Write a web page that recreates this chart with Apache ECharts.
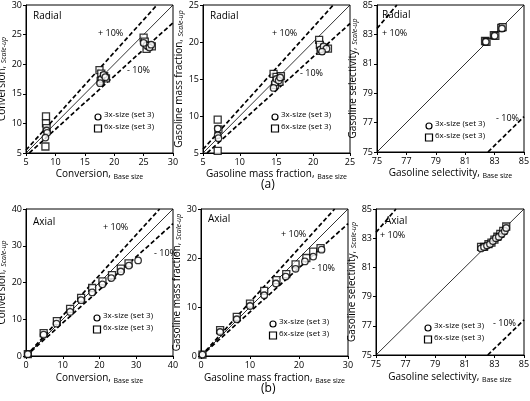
<!DOCTYPE html>
<html><head><meta charset="utf-8">
<script src="https://cdn.jsdelivr.net/npm/echarts@6/dist/echarts.min.js"></script>
<style>html,body{margin:0;padding:0;background:#fff}#c{width:530px;height:401px}</style>
</head><body><div id="c"></div>
<script>
// ---- data ----
var radialConv3x = [[8.5,8.8],[8.6,8.4],[8.3,7.6],[17.8,17.5],[18.2,18.2],[18.5,17.8],[17.6,16.8],[25.5,23.2],[26,22.8],[26.3,23.3],[25,23.6]];
var radialConv6x = [[8.4,11.2],[8.4,10],[8.5,9.2],[8.3,6.1],[17.5,19],[17.8,18.4],[18.3,18.0],[18.6,17.6],[17.7,17.2],[25,24.5],[25.2,23.8],[25.5,22.6],[26,23.1],[26.4,23]];
var radialGas3x = [[7,8.3],[7,7.4],[7.1,7.0],[14.8,14.5],[15,15],[15.3,14.8],[14.6,13.8],[15.5,15.2],[21,19],[21.4,19.4],[21.8,19.1],[21.2,18.7]];
var radialGas6x = [[7,9.5],[7.1,8.2],[7,5.3],[14.6,15.7],[15,15.3],[15.4,14.6],[15.6,15.4],[14.8,14.2],[20.8,20.3],[20.9,19.6],[21,18.8],[21.5,19.2],[22,19.1]];
var radialSel3x = [[82.4,82.5],[83,82.9],[83.5,83.4]];
var radialSel6x = [[82.35,82.55],[82.45,82.5],[82.95,82.95],[83.05,82.9],[83.45,83.45],[83.55,83.5]];
var axialConv3x = [[0.5,0.5],[4.8,5.8],[8.3,8.8],[12,12],[15,15.2],[18,17.3],[20.8,19.5],[23.2,21.2],[25.8,23],[28,24.6],[30.5,26]];
var axialConv6x = [[0.5,0.5],[4.8,6.2],[8.4,9.5],[12,12.8],[15,15.8],[18,18.5],[20.8,20.3],[23.4,22],[25.8,23.8],[27.9,25.2]];
var axialGas3x = [[0.3,0.3],[3.9,4.9],[7.3,7.5],[10,10.2],[12.9,12.4],[15.3,14.8],[17.3,16.2],[19.3,17.8],[21.2,19.3],[22.9,20.3],[24.6,21.7]];
var axialGas6x = [[0.3,0.3],[3.9,5.3],[7.3,8],[10,10.7],[12.9,13.3],[15.4,15.5],[17.4,16.7],[19.3,18.7],[21.5,20],[22.9,21.3],[24.4,22]];
var axialSel3x = [[82.1,82.3],[82.3,82.4],[82.5,82.5],[82.7,82.6],[82.9,82.8],[83.1,83.0],[83.3,83.1],[83.5,83.3],[83.7,83.5],[83.8,83.7]];
var axialSel6x = [[82.1,82.4],[82.3,82.4],[82.6,82.6],[82.8,82.7],[83.0,82.9],[83.2,83.1],[83.4,83.3],[83.6,83.5],[83.8,83.8]];

// reference lines (endpoints)
var conv1Parity = [[5,5],[30,30]], conv1Plus = [[5,5.5],[27.27,30]], conv1Minus = [[5.56,5],[30,27]];
var gas1Parity = [[5,5],[25,25]], gas1Plus = [[5,5.5],[22.73,25]], gas1Minus = [[5.56,5],[25,22.5]];
var selParity = [[75,75],[85,85]], selPlus = [[75,83.4],[76.35,85]], selMinus = [[82.55,75],[85,77.4]];
var conv2Parity = [[0,0],[40,40]], conv2Plus = [[0,0],[36.36,40]], conv2Minus = [[0,0],[40,36]];
var gas2Parity = [[0,0],[30,30]], gas2Plus = [[0,0],[27.27,30]], gas2Minus = [[0,0],[30,27]];

var legend3x = '3x-size (set 3)', legend6x = '6x-size (set 3)';
var xNames = ['Conversion, ','Gasoline mass fraction, ','Gasoline selectivity, ','Conversion, ','Gasoline mass fraction, ','Gasoline selectivity, '];
var yNames = xNames;
var panelTags = ['Radial','Radial','Radial','Axial','Axial','Axial'];

// ---- layout ----
var FONT = '"Open Sans", "DejaVu Sans", sans-serif';
var grids = [
  {left:26, top:5, width:147, height:148},
  {left:203, top:5, width:147, height:148},
  {left:377, top:5, width:147, height:147},
  {left:26, top:209, width:147, height:147},
  {left:201, top:209, width:147, height:147},
  {left:376, top:209, width:148, height:146}
];
var axisRanges = [[5,30,5],[5,25,5],[75,85,2],[0,40,10],[0,30,10],[75,85,2]];
var yNameGaps = [15,14,12,15,13,14];
var xNameGaps = [16,16,16,17,17,17];

var panels = [
  {c3:radialConv3x, c6:radialConv6x, par:conv1Parity, plus:conv1Plus, minus:conv1Minus},
  {c3:radialGas3x, c6:radialGas6x, par:gas1Parity, plus:gas1Plus, minus:gas1Minus},
  {c3:radialSel3x, c6:radialSel6x, par:selParity, plus:selPlus, minus:selMinus},
  {c3:axialConv3x, c6:axialConv6x, par:conv2Parity, plus:conv2Plus, minus:conv2Minus},
  {c3:axialGas3x, c6:axialGas6x, par:gas2Parity, plus:gas2Plus, minus:gas2Minus},
  {c3:axialSel3x, c6:axialSel6x, par:selParity, plus:selPlus, minus:selMinus}
];

var gridOpts = [], xAxes = [], yAxes = [], series = [];
grids.forEach(function(g,i){
  gridOpts.push(Object.assign({show:true, borderColor:'#000', borderWidth:1, backgroundColor:'#fff',
    containLabel:false, outerBoundsMode:'none'}, g));
  var r = axisRanges[i];
  var common = {
    gridIndex:i, type:'value', min:r[0], max:r[1], interval:r[2],
    axisLine:{show:true, onZero:false, lineStyle:{color:'#000', width:1}},
    axisTick:{show:true, inside:false, length:3, lineStyle:{color:'#000'}},
    splitLine:{show:false},
    axisLabel:{color:'#000', fontSize:9, fontFamily:FONT, margin:4},
    nameLocation:'middle'
  };
  xAxes.push(Object.assign({}, common, {
    name:'{a|'+xNames[i]+'}{b|Base size}', nameGap:xNameGaps[i],
    axisLabel:Object.assign({}, common.axisLabel, {margin:5}),
    nameTextStyle:{rich:{a:{fontSize:10, fontFamily:FONT, color:'#000'}, b:{fontSize:7, fontFamily:FONT, color:'#000', padding:[4,0,0,0]}}}
  }));
  yAxes.push(Object.assign({}, common, {
    name:'{a|'+yNames[i]+'}{b|Scale-up}', nameGap:yNameGaps[i],
    nameTextStyle:{rich:{a:{fontSize:10, fontFamily:FONT, color:'#000'}, b:{fontSize:7, fontFamily:FONT, color:'#000', fontStyle:'italic', padding:[4,0,0,0]}}}
  }));
  var p = panels[i];
  series.push({type:'line', xAxisIndex:i, yAxisIndex:i, data:p.par, symbol:'none', clip:true, silent:true,
    lineStyle:{color:'#000', width:0.8}, z:1});
  series.push({type:'line', xAxisIndex:i, yAxisIndex:i, data:p.plus, symbol:'none', clip:true, silent:true,
    lineStyle:{color:'#000', width:1.7, type:[4.5,2.5]}, z:1});
  series.push({type:'line', xAxisIndex:i, yAxisIndex:i, data:p.minus, symbol:'none', clip:true, silent:true,
    lineStyle:{color:'#000', width:1.7, type:[4.5,2.5]}, z:1});
  series.push({type:'scatter', name:legend6x, xAxisIndex:i, yAxisIndex:i, data:p.c6, symbol:'rect', symbolSize:7,
    itemStyle:{color:'#fff', borderColor:'#000', borderWidth:1.3}, z:3});
  series.push({type:'scatter', name:legend3x, xAxisIndex:i, yAxisIndex:i, data:p.c3, symbol:'circle', symbolSize:6.5,
    itemStyle:{color:'#fff', borderColor:'#000', borderWidth:1.3}, z:4});
});

// annotations
var txtFont = '9px ' + FONT;
var legFont = '8px ' + FONT;
var annos = [
  {tag:[33,11], plus:[98,29], minus:[127,66], leg:[98,117]},
  {tag:[210,11], plus:[272,29], minus:[300,69], leg:[275,117]},
  {tag:[382,10], plus:[382,29], minus:[496,114], leg:[429,126]},
  {tag:[33,217], plus:[103,223], minus:[154,249], leg:[97,318]},
  {tag:[208,214], plus:[281,230], minus:[312,264], leg:[273,324]},
  {tag:[385,216], plus:[380,231], minus:[493,319], leg:[428,328]}
];
var graphics = [];
annos.forEach(function(a,i){
  graphics.push({type:'text', left:a.tag[0], top:a.tag[1], z:10, style:{text:panelTags[i], font:'10px '+FONT, fill:'#000'}});
  graphics.push({type:'text', left:a.plus[0], top:a.plus[1], z:10, style:{text:'+ 10%', font:txtFont, fill:'#000'}});
  graphics.push({type:'text', left:a.minus[0], top:a.minus[1], z:10, style:{text:'- 10%', font:txtFont, fill:'#000'}});
  graphics.push({type:'circle', z:10, shape:{cx:a.leg[0], cy:a.leg[1], r:3}, style:{fill:'#fff', stroke:'#000', lineWidth:1.2}});
  graphics.push({type:'rect', z:10, shape:{x:a.leg[0]-3.5, y:a.leg[1]+8, width:7, height:7}, style:{fill:'#fff', stroke:'#000', lineWidth:1.2}});
  graphics.push({type:'text', left:a.leg[0]+6, top:a.leg[1]-6, z:10, style:{text:legend3x, font:legFont, fill:'#000'}});
  graphics.push({type:'text', left:a.leg[0]+6, top:a.leg[1]+6, z:10, style:{text:legend6x, font:legFont, fill:'#000'}});
});
graphics.push({type:'text', left:261, top:179, style:{text:'(a)', font:'12px '+FONT, fill:'#000'}});
graphics.push({type:'text', left:261, top:383, style:{text:'(b)', font:'12px '+FONT, fill:'#000'}});

var chart = echarts.init(document.getElementById('c'), null, {renderer:'canvas'});
chart.setOption({
  animation:false,
  backgroundColor:'#fff',
  grid:gridOpts, xAxis:xAxes, yAxis:yAxes, series:series, graphic:graphics
});
</script></body></html>
